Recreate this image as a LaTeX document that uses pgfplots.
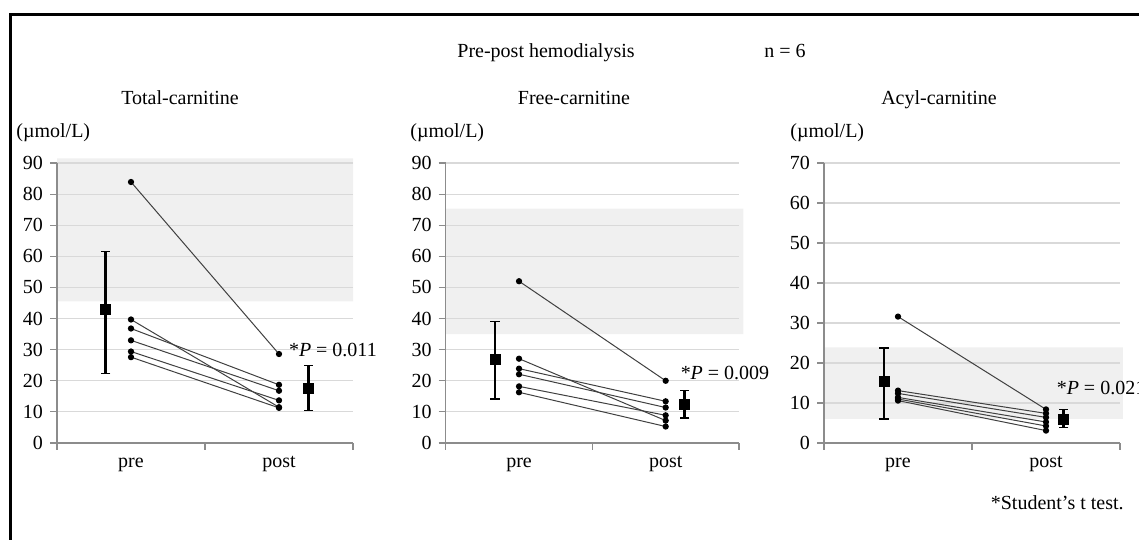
\documentclass[border=0pt]{standalone}
\usepackage{fontspec}
\setmainfont{Liberation Serif}
\usepackage{pgfplots}
\pgfplotsset{compat=1.18}
\definecolor{shade}{gray}{0.94}
\definecolor{gridgray}{gray}{0.85}
\definecolor{linegray}{gray}{0.25}

\pgfplotsset{
  panel/.style={
    scale only axis,
    anchor=south west,
    height=140pt,
    xmin=0, xmax=2, ymin=0,
    clip=false,
    set layers=standard,
    axis x line*=bottom,
    axis y line*=left,
    axis line style={black!45, line width=0.6pt},
    tick style={black!45, line width=0.6pt},
    tick align=outside,
    major tick length=3.5pt,
    xtick={0,1,2}, xticklabels={},
    extra x ticks={0.5,1.5},
    extra x tick labels={pre,post},
    extra x tick style={major tick length=0pt},
    ymajorgrids=true,
    grid style={gridgray, line width=0.6pt},
    ytick distance=10,
    ticklabel style={font=\fontsize{10}{12}\selectfont},
    /pgf/number format/assume math mode=true,
    x tick label style={anchor=base, yshift=-12.5pt},
  },
  subj/.style={linegray, line width=0.5pt, mark=*, mark size=1.3pt,
    mark options={fill=black, draw=black}},
  band/.style={on layer=axis background, fill=shade, draw=none},
  meansd/.style={only marks, mark=square*, mark size=2.5pt, black,
    error bars/.cd, y dir=both, y explicit,
    error bar style={line width=1.4pt, black},
    error mark options={rotate=90, mark size=2.3pt, line width=0.7pt, black}},
}

\begin{document}
\begin{tikzpicture}
% frame
\draw[line width=1.3pt] (5.15pt,-5pt) -- (5.15pt,262.75pt) -- (575pt,262.75pt);

\node[anchor=base] at (273pt,241pt) {Pre-post hemodialysis};
\node[anchor=base] at (392.5pt,241pt) {n = 6};

\node[anchor=base] at (90pt,217.5pt) {Total-carnitine};
\node[anchor=base] at (287pt,217.5pt) {Free-carnitine};
\node[anchor=base] at (469.5pt,217.5pt) {Acyl-carnitine};

\node[anchor=base west, inner sep=0pt] at (8pt,201pt) {(µmol/L)};
\node[anchor=base west, inner sep=0pt] at (205pt,201pt) {(µmol/L)};
\node[anchor=base west, inner sep=0pt] at (395pt,201pt) {(µmol/L)};

\node[anchor=base east, inner sep=0pt] at (562pt,15pt) {*Student’s t test.};

% Total-carnitine
\begin{axis}[panel, at={(28.5pt,48.5pt)}, width=148pt, ymax=90]
\addplot[band] coordinates {(0,45.5) (2,45.5) (2,91.5) (0,91.5)} \closedcycle;
\addplot[subj] coordinates {(0.5,83.9) (1.5,28.6)};
\addplot[subj] coordinates {(0.5,39.7) (1.5,11.5)};
\addplot[subj] coordinates {(0.5,36.8) (1.5,18.7)};
\addplot[subj] coordinates {(0.5,33.0) (1.5,16.8)};
\addplot[subj] coordinates {(0.5,29.4) (1.5,13.7)};
\addplot[subj] coordinates {(0.5,27.6) (1.5,11.3)};
\addplot[meansd] coordinates {
  (0.33,43.1) += (0,18.5) -= (0,20.7)
  (1.70,17.4) += (0,7.5) -= (0,6.9)
};
\node[anchor=west, inner sep=0pt] at (axis cs:1.565,30) {*\textit{P} = 0.011};
\end{axis}

% Free-carnitine
\begin{axis}[panel, at={(222.85pt,48.5pt)}, width=146.65pt, ymax=90]
\addplot[band] coordinates {(0,35) (2.03,35) (2.03,75.3) (0,75.3)} \closedcycle;
\addplot[subj] coordinates {(0.5,52.0) (1.5,20.0)};
\addplot[subj] coordinates {(0.5,27.1) (1.5,7.2)};
\addplot[subj] coordinates {(0.5,23.9) (1.5,13.4)};
\addplot[subj] coordinates {(0.5,22.1) (1.5,11.4)};
\addplot[subj] coordinates {(0.5,18.2) (1.5,8.9)};
\addplot[subj] coordinates {(0.5,16.3) (1.5,5.3)};
\addplot[meansd] coordinates {
  (0.336,26.8) += (0,12.3) -= (0,12.6)
  (1.63,12.5) += (0,4.3) -= (0,4.5)
};
\node[anchor=west, inner sep=0pt] at (axis cs:1.6,22.5) {*\textit{P} = 0.009};
\end{axis}

% Acyl-carnitine
\begin{axis}[panel, at={(412pt,48.5pt)}, width=148pt, ymax=70]
\addplot[band] coordinates {(0,6) (2.02,6) (2.02,23.9) (0,23.9)} \closedcycle;
\addplot[subj] coordinates {(0.5,31.6) (1.5,8.4)};
\addplot[subj] coordinates {(0.5,13.1) (1.5,7.4)};
\addplot[subj] coordinates {(0.5,12.4) (1.5,6.4)};
\addplot[subj] coordinates {(0.5,11.4) (1.5,5.25)};
\addplot[subj] coordinates {(0.5,11.0) (1.5,4.25)};
\addplot[subj] coordinates {(0.5,10.6) (1.5,3.1)};
\addplot[meansd] coordinates {
  (0.405,15.4) += (0,8.3) -= (0,9.4)
  (1.62,5.8) += (0,2.5) -= (0,2.0)
};
\node[anchor=west, inner sep=0pt] at (axis cs:1.57,13.75) {*\textit{P} = 0.021};
\end{axis}

\pgfresetboundingbox
\path[use as bounding box] (0pt,0pt) rectangle (569.5pt,270pt);
\end{tikzpicture}
\end{document}
